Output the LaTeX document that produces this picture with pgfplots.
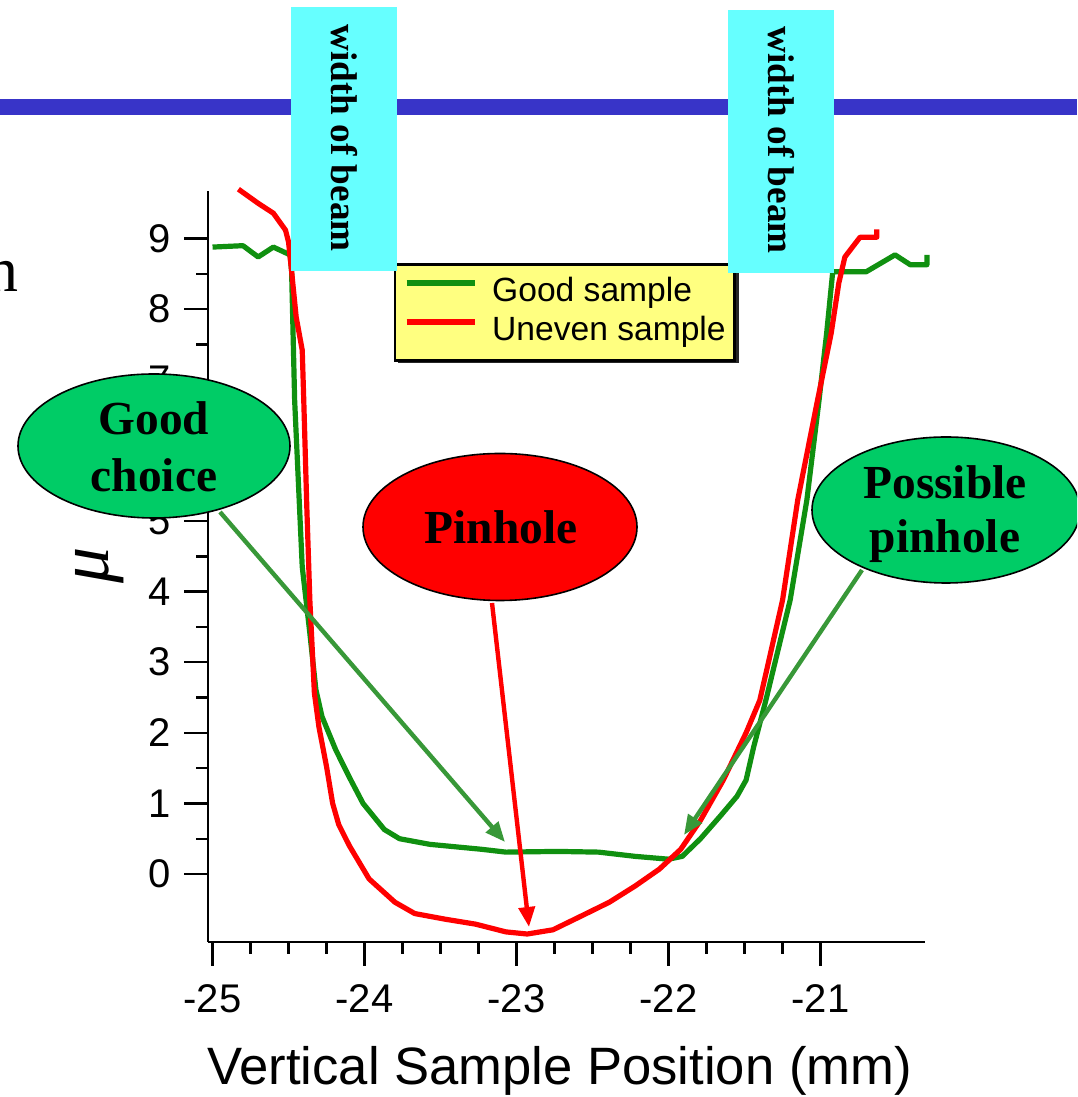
\documentclass[border=0pt]{standalone}
\usepackage{pgfplots}
\pgfplotsset{compat=1.18}
\usepackage{fontspec}
\setmainfont{Liberation Serif}
\newfontfamily\sansf{Liberation Sans}
\usetikzlibrary{arrows.meta}

\definecolor{barblue}{RGB}{56,52,200}
\definecolor{beamcyan}{RGB}{102,255,255}
\definecolor{goodgreen}{RGB}{16,144,16}
\definecolor{unevenred}{RGB}{255,0,0}
\definecolor{ovalgreen}{RGB}{0,204,102}
\definecolor{arrowgreen}{RGB}{56,152,56}
\definecolor{legendyellow}{RGB}{255,255,128}

\begin{document}
\begin{tikzpicture}
\useasboundingbox (0,0) rectangle (538.5pt,548.5pt);
\clip (0,0) rectangle (538.5pt,548.5pt);

\begin{scope}[shift={(0pt,548.5pt)},x=0.5pt,y=-0.5pt]
  % slide title rule
  \fill[barblue] (0,99) rectangle (1077,115);
  % shadow under the legend box
  \fill[black!85] (398,267) rectangle (739,363);
\end{scope}

\begin{axis}[
  at={(104pt,77.5pt)}, anchor=south west,
  x=76pt, y=35.3pt,
  xmin=-25.03, xmax=-20.31, ymin=-0.963, ymax=9.67,
  clip=false,
  axis x line=bottom, axis y line=left,
  axis line style={-, line width=1.3pt, black},
  xtick={-25,-24,-23,-22,-21}, minor x tick num=3,
  ytick={0,1,2,3,4,5,6,7,8,9}, minor y tick num=1,
  tick align=outside,
  major tick length=12pt, minor tick length=6pt,
  every tick/.style={black, line width=1.2pt},
  /pgf/number format/assume math mode=true,
  tick label style={font=\sansf\fontsize{20}{22}\selectfont},
  xticklabel style={yshift=-6pt},
  yticklabel style={xshift=-3pt},
  xlabel={Vertical Sample Position (mm)},
  xlabel style={at={(axis description cs:0.49,0)}, anchor=base, yshift=-71pt,
    font=\sansf\fontsize{26.3}{30}\selectfont},
  ylabel={\itshape μ},
  ylabel style={at={(axis description cs:-0.1505,0.502)}, anchor=center,
    font=\fontsize{36}{36}\selectfont},
  legend cell align=left,
  legend image code/.code={\draw[#1, line cap=butt] (0pt,5pt) -- (34pt,5pt);},
  legend style={at={(axis description cs:0.259,0.904)}, anchor=north west,
    fill=legendyellow, draw=black, line width=1.2pt,
    inner xsep=4.5pt, inner ysep=6.25pt, row sep=3.5pt, column sep=7.5pt,
    nodes={inner sep=0pt, text height=12pt, text depth=4pt},
    font=\sansf\fontsize{16.8}{19}\selectfont},
]
\addplot[goodgreen, line width=2.6pt, line join=round] coordinates {
  (-25.00,8.88) (-24.80,8.90) (-24.70,8.74) (-24.60,8.88) (-24.49,8.77)
  (-24.48,8.54) (-24.46,6.71) (-24.41,4.35) (-24.36,3.41) (-24.32,2.61)
  (-24.28,2.23) (-24.19,1.76) (-24.10,1.37) (-24.01,1.00) (-23.87,0.63)
  (-23.77,0.50) (-23.57,0.42) (-23.23,0.35) (-23.07,0.31) (-22.73,0.32)
  (-22.46,0.31) (-22.22,0.25) (-22.00,0.21) (-21.91,0.25) (-21.79,0.50)
  (-21.66,0.82) (-21.55,1.10) (-21.49,1.33) (-21.44,1.80) (-21.36,2.46)
  (-21.20,3.88) (-21.09,5.30) (-21.01,6.71) (-20.96,7.66) (-20.92,8.53)
  (-20.70,8.53) (-20.51,8.77) (-20.41,8.63) (-20.30,8.63) (-20.30,8.77)
};
\addlegendentry{Good sample}
\addplot[unevenred, line width=2.6pt, line join=round] coordinates {
  (-24.83,9.70) (-24.70,9.50) (-24.60,9.36) (-24.52,9.12) (-24.50,8.95)
  (-24.48,8.54) (-24.45,7.89) (-24.41,7.42) (-24.40,6.71) (-24.38,5.20)
  (-24.36,3.88) (-24.33,2.56) (-24.30,2.08) (-24.25,1.52) (-24.21,1.00)
  (-24.17,0.70) (-24.10,0.40) (-23.97,-0.07) (-23.80,-0.40) (-23.67,-0.56)
  (-23.47,-0.64) (-23.27,-0.71) (-23.07,-0.82) (-22.93,-0.85) (-22.76,-0.79)
  (-22.56,-0.58) (-22.39,-0.40) (-22.22,-0.17) (-22.06,0.07) (-21.92,0.35)
  (-21.79,0.76) (-21.64,1.33) (-21.49,2.00) (-21.40,2.46) (-21.35,2.93)
  (-21.25,3.88) (-21.15,5.30) (-21.02,6.71) (-20.93,7.66) (-20.88,8.37)
  (-20.84,8.74) (-20.74,9.02) (-20.63,9.02) (-20.63,9.13)
};
\addlegendentry{Uneven sample}
\end{axis}

\begin{scope}[shift={(0pt,548.5pt)},x=0.5pt,y=-0.5pt]
  % beam width markers
  \fill[beamcyan] (291,7) rectangle (397,271);
  \fill[beamcyan] (728,10) rectangle (834,273);
  \node[rotate=-90, inner sep=0pt, font=\bfseries\fontsize{18.6}{20}\selectfont]
    at (344,138) {width of beam};
  \node[rotate=-90, inner sep=0pt, font=\bfseries\fontsize{18.6}{20}\selectfont]
    at (781,140) {width of beam};

  % callouts
  \filldraw[fill=ovalgreen, draw=black, line width=0.8pt]
    (154,446) ellipse [x radius=136, y radius=72];
  \filldraw[fill=unevenred, draw=black, line width=0.8pt]
    (500,527) ellipse [x radius=137, y radius=73.5];
  \filldraw[fill=ovalgreen, draw=black, line width=0.8pt]
    (946,510) ellipse [x radius=134, y radius=73];

  \node[align=center, inner sep=0pt, font=\bfseries\fontsize{23.7}{28.5}\selectfont]
    at (154,447) {Good\\choice};
  \node[inner sep=0pt, font=\bfseries\fontsize{23.7}{28.5}\selectfont]
    at (501,527) {Pinhole};
  \node[align=center, inner sep=0pt, font=\bfseries\fontsize{23.7}{27}\selectfont]
    at (945,514) {Possible\\pinhole};

  \draw[arrowgreen, line width=2.2pt, -{Triangle[length=10pt,width=8pt]}]
    (220,512) -- (505,842);
  \draw[unevenred, line width=2.2pt, -{Triangle[length=10pt,width=8pt]}]
    (492,603) -- (529,927);
  \draw[arrowgreen, line width=2.2pt, -{Triangle[length=10pt,width=8pt]}]
    (862,570) -- (684,835);

  % clipped slide text at the left edge
  \node[anchor=base east, inner sep=0pt, font=\fontsize{32}{34}\selectfont]
    at (19,292) {n};
\end{scope}
\end{tikzpicture}
\end{document}
